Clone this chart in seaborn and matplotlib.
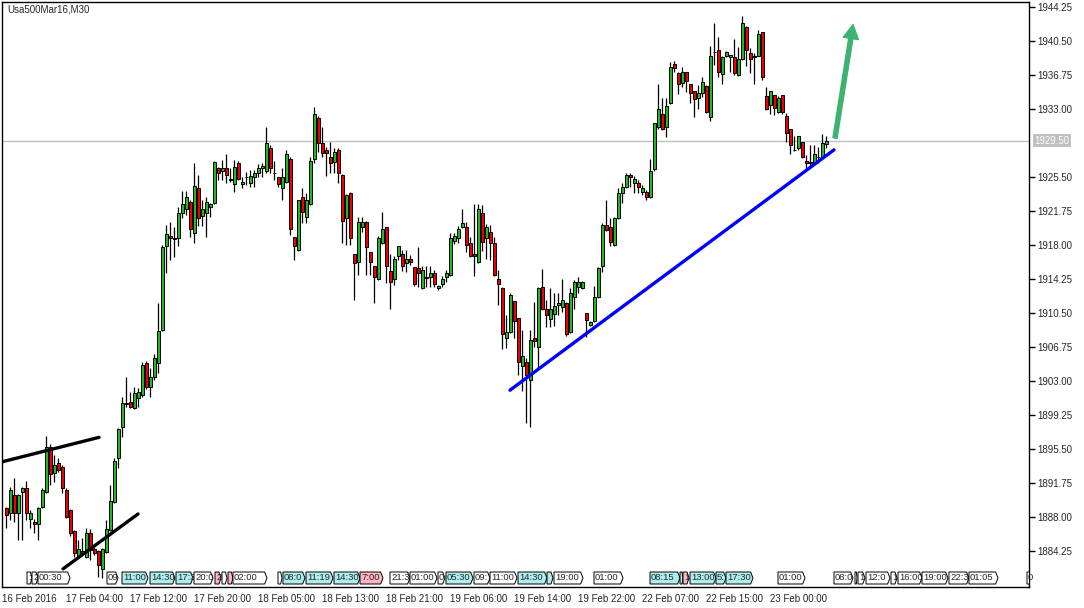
import numpy as np
import pandas as pd
import seaborn as sns
import matplotlib.pyplot as plt
from matplotlib.patches import Polygon
import matplotlib.transforms as mtransforms

# Usa500Mar16, M30 candles
opens = [
    1889.0, 1888.5, 1890.4, 1888.5, 1890.8, 1891.2, 1887.8, 1887.5, 1887.2, 1889.1,
    1890.8, 1895.7, 1892.9, 1894.0, 1893.5, 1891.0, 1888.8, 1886.5, 1883.7, 1884.0,
    1883.6, 1886.3, 1884.5, 1884.3, 1882.3, 1884.2, 1886.6, 1889.7, 1894.5, 1897.9,
    1900.6, 1900.7, 1900.0, 1901.1, 1901.5, 1905.0, 1902.4, 1903.4, 1905.0, 1908.6,
    1917.9, 1919.0, 1918.8, 1918.8, 1921.5, 1922.0, 1922.7, 1919.3, 1924.3, 1921.2,
    1921.5, 1922.2, 1922.6, 1926.5, 1926.2, 1926.5, 1925.3, 1924.7, 1927.1, 1924.7,
    1925.5, 1924.8, 1925.5, 1925.9, 1926.5, 1926.2, 1928.7, 1925.9, 1925.5, 1924.3,
    1924.9, 1927.5, 1918.9, 1917.5, 1923.3, 1921.1, 1922.5, 1927.5, 1932.0, 1929.3,
    1928.5, 1927.7, 1927.2, 1928.5, 1925.7, 1921.0, 1923.7, 1917.0, 1916.1, 1920.0,
    1920.5, 1917.2, 1915.7, 1914.3, 1918.2, 1920.0, 1915.1, 1914.3, 1916.8, 1917.0,
    1916.0, 1916.5, 1915.6, 1915.5, 1913.3, 1914.5, 1914.5, 1914.9, 1913.3, 1913.7,
    1914.5, 1914.7, 1918.4, 1918.8, 1920.0, 1920.0, 1918.2, 1917.0, 1916.1, 1921.5,
    1918.8, 1919.4, 1918.2, 1914.3, 1913.3, 1907.7, 1908.4, 1911.8, 1910.0, 1904.7,
    1905.1, 1903.1, 1907.8, 1906.8, 1913.4, 1910.9, 1909.9, 1910.4, 1911.4, 1911.2,
    1911.6, 1908.4, 1912.3, 1913.4, 1913.3, 1910.5, 1909.2, 1909.6, 1912.3, 1915.7,
    1920.2, 1920.0, 1918.0, 1921.0, 1923.7, 1924.4, 1925.7, 1924.8, 1924.8, 1923.9,
    1923.9, 1923.3, 1926.4, 1931.0, 1932.4, 1931.0, 1933.7, 1938.0, 1937.0, 1935.9,
    1937.1, 1935.8, 1935.0, 1934.2, 1934.8, 1935.5, 1932.1, 1939.3, 1939.5, 1936.9,
    1938.8, 1938.7, 1938.7, 1936.8, 1938.5, 1942.0, 1939.2, 1938.8, 1938.9, 1941.5,
    1934.4, 1933.4, 1934.5, 1932.7, 1934.5, 1932.2, 1930.8, 1928.5, 1928.7, 1929.4,
    1927.3, 1927.2, 1927.1, 1927.7, 1927.7, 1929.1,
]
highs = [
    1889.1, 1891.3, 1892.3, 1890.5, 1891.3, 1892.0, 1888.8, 1887.8, 1889.1, 1891.2,
    1897.0, 1896.1, 1894.9, 1894.5, 1893.8, 1891.2, 1888.9, 1886.6, 1885.5, 1885.7,
    1886.8, 1886.7, 1884.7, 1884.4, 1884.6, 1887.7, 1891.5, 1894.5, 1897.8, 1901.3,
    1903.4, 1901.8, 1902.4, 1902.2, 1905.1, 1905.2, 1904.4, 1906.0, 1911.6, 1918.0,
    1920.2, 1920.5, 1920.0, 1922.2, 1924.0, 1924.0, 1923.0, 1927.0, 1925.7, 1923.0,
    1923.3, 1922.6, 1927.3, 1926.6, 1927.4, 1928.0, 1926.5, 1927.4, 1927.3, 1925.5,
    1926.1, 1926.3, 1926.3, 1926.9, 1927.0, 1931.0, 1929.0, 1927.3, 1925.5, 1926.5,
    1928.5, 1927.7, 1918.9, 1923.0, 1924.3, 1923.7, 1927.7, 1933.2, 1932.2, 1931.0,
    1928.8, 1929.4, 1928.7, 1928.7, 1925.8, 1923.6, 1923.8, 1917.0, 1921.1, 1921.1,
    1920.6, 1917.2, 1915.7, 1919.0, 1921.6, 1920.0, 1917.0, 1916.8, 1917.9, 1917.5,
    1917.5, 1916.9, 1915.6, 1917.8, 1915.7, 1915.7, 1915.7, 1915.3, 1913.6, 1914.6,
    1915.3, 1919.3, 1919.3, 1920.1, 1922.0, 1920.5, 1918.9, 1922.5, 1922.5, 1922.4,
    1920.3, 1920.2, 1918.9, 1915.3, 1913.4, 1910.3, 1912.7, 1911.8, 1910.0, 1908.6,
    1905.6, 1908.6, 1911.7, 1913.4, 1915.4, 1911.9, 1913.3, 1912.7, 1912.7, 1914.3,
    1911.7, 1913.3, 1914.1, 1914.5, 1914.0, 1910.5, 1909.6, 1913.5, 1915.6, 1920.4,
    1923.0, 1921.0, 1921.1, 1924.3, 1924.8, 1925.9, 1925.9, 1925.6, 1925.2, 1924.6,
    1924.1, 1927.5, 1931.5, 1935.8, 1934.2, 1934.2, 1938.2, 1938.3, 1937.1, 1937.6,
    1937.1, 1935.8, 1935.0, 1935.6, 1936.5, 1935.6, 1939.9, 1942.5, 1940.9, 1938.8,
    1939.4, 1939.0, 1940.7, 1939.8, 1943.3, 1942.1, 1939.7, 1939.2, 1941.7, 1941.5,
    1935.4, 1935.0, 1934.6, 1934.4, 1934.6, 1932.6, 1930.8, 1930.0, 1930.0, 1929.4,
    1927.9, 1929.0, 1929.0, 1928.8, 1930.3, 1930.0,
]
lows = [
    1886.8, 1887.7, 1887.5, 1885.5, 1885.5, 1887.7, 1886.8, 1886.3, 1885.5, 1889.0,
    1890.7, 1891.5, 1891.9, 1893.0, 1890.7, 1887.9, 1885.9, 1883.6, 1883.5, 1883.8,
    1883.5, 1883.3, 1883.8, 1881.4, 1881.3, 1884.1, 1886.5, 1889.6, 1893.4, 1896.8,
    1900.1, 1900.0, 1899.9, 1900.1, 1901.3, 1902.1, 1901.3, 1903.1, 1903.9, 1908.5,
    1914.9, 1916.4, 1916.7, 1917.9, 1921.0, 1921.3, 1918.9, 1918.2, 1920.1, 1920.1,
    1918.9, 1921.1, 1922.5, 1925.2, 1925.2, 1924.8, 1924.9, 1923.9, 1925.2, 1924.3,
    1924.6, 1924.4, 1924.4, 1925.5, 1925.5, 1925.9, 1925.9, 1925.2, 1924.4, 1923.0,
    1924.8, 1919.1, 1916.4, 1917.4, 1920.4, 1920.4, 1922.4, 1927.0, 1928.3, 1927.7,
    1925.6, 1925.9, 1925.9, 1924.8, 1918.2, 1918.0, 1918.0, 1911.9, 1914.7, 1919.4,
    1914.7, 1914.7, 1911.6, 1914.2, 1918.1, 1913.8, 1910.9, 1913.6, 1916.4, 1915.1,
    1915.0, 1915.8, 1913.5, 1913.4, 1913.2, 1913.4, 1913.4, 1913.4, 1913.1, 1913.4,
    1913.9, 1914.6, 1918.1, 1918.2, 1919.9, 1917.2, 1916.7, 1914.6, 1916.0, 1917.4,
    1916.5, 1916.4, 1914.6, 1911.4, 1906.5, 1906.6, 1908.3, 1907.8, 1903.7, 1901.9,
    1898.4, 1897.9, 1906.8, 1904.5, 1910.8, 1909.0, 1909.0, 1909.1, 1910.3, 1910.6,
    1908.0, 1908.3, 1910.9, 1912.7, 1913.2, 1907.9, 1909.1, 1909.5, 1912.2, 1915.0,
    1919.6, 1917.9, 1917.9, 1920.9, 1922.6, 1924.3, 1924.4, 1923.7, 1923.7, 1923.5,
    1923.0, 1923.2, 1926.2, 1930.8, 1930.7, 1929.9, 1933.6, 1937.1, 1934.7, 1935.4,
    1934.9, 1933.7, 1932.1, 1933.0, 1934.3, 1932.6, 1931.7, 1937.9, 1936.5, 1935.8,
    1938.7, 1937.1, 1936.8, 1936.6, 1938.4, 1937.7, 1937.0, 1935.8, 1938.8, 1936.2,
    1932.9, 1932.5, 1932.3, 1932.6, 1932.4, 1929.4, 1928.0, 1928.4, 1928.5, 1927.6,
    1926.3, 1926.6, 1927.0, 1927.1, 1927.6, 1928.7,
]
closes = [
    1888.2, 1891.0, 1888.5, 1890.4, 1891.2, 1888.5, 1888.5, 1887.2, 1889.0, 1891.0,
    1895.7, 1892.8, 1893.8, 1893.2, 1891.2, 1888.0, 1886.3, 1884.0, 1884.5, 1884.3,
    1886.3, 1884.4, 1884.0, 1882.7, 1884.5, 1886.7, 1889.8, 1894.2, 1897.7, 1900.6,
    1900.5, 1900.1, 1901.7, 1901.8, 1904.8, 1902.4, 1903.4, 1905.6, 1908.5, 1917.8,
    1919.2, 1918.8, 1918.7, 1921.5, 1922.5, 1923.3, 1919.8, 1924.5, 1921.0, 1922.0,
    1922.7, 1922.5, 1927.2, 1925.9, 1926.5, 1925.7, 1925.2, 1926.6, 1925.3, 1924.9,
    1925.5, 1925.6, 1925.9, 1926.5, 1926.7, 1929.3, 1926.5, 1925.9, 1924.7, 1925.5,
    1928.0, 1919.8, 1917.9, 1923.0, 1921.6, 1923.0, 1927.3, 1932.5, 1929.3, 1928.2,
    1928.2, 1927.0, 1928.3, 1925.9, 1920.6, 1923.5, 1918.8, 1916.0, 1920.5, 1920.5,
    1917.8, 1916.1, 1914.5, 1918.8, 1919.8, 1915.7, 1913.9, 1916.5, 1917.9, 1915.7,
    1916.5, 1916.1, 1913.7, 1914.9, 1915.3, 1914.4, 1914.9, 1913.7, 1913.5, 1914.3,
    1914.9, 1918.8, 1919.0, 1919.8, 1920.4, 1918.0, 1916.8, 1916.8, 1922.0, 1918.3,
    1920.0, 1918.2, 1914.7, 1913.7, 1908.2, 1908.4, 1912.5, 1909.6, 1905.1, 1905.8,
    1903.7, 1907.5, 1907.4, 1913.3, 1910.9, 1910.3, 1910.9, 1911.3, 1911.6, 1911.9,
    1908.2, 1912.7, 1913.9, 1913.9, 1913.9, 1909.7, 1909.5, 1912.3, 1915.5, 1920.2,
    1919.7, 1918.3, 1921.0, 1923.7, 1924.4, 1925.7, 1925.5, 1925.3, 1924.4, 1924.3,
    1923.3, 1926.2, 1931.5, 1933.0, 1930.8, 1933.3, 1937.6, 1937.5, 1935.8, 1937.1,
    1936.1, 1934.8, 1934.1, 1934.8, 1936.0, 1932.7, 1938.9, 1939.3, 1937.1, 1938.7,
    1939.3, 1939.0, 1937.0, 1938.5, 1942.5, 1939.5, 1938.5, 1938.7, 1941.3, 1936.5,
    1933.0, 1935.0, 1933.1, 1934.2, 1932.7, 1930.4, 1929.0, 1928.5, 1930.0, 1927.7,
    1927.0, 1927.1, 1928.0, 1927.7, 1929.3, 1929.5,
]

current_price = 1929.50
price_ticks = [1944.25, 1940.50, 1936.75, 1933.00, 1925.50, 1921.75, 1918.00,
               1914.25, 1910.50, 1906.75, 1903.00, 1899.25, 1895.50, 1891.75,
               1888.00, 1884.25]
date_bars = [-1, 15, 31, 47, 63, 79, 95, 111, 127, 143, 159, 175, 191]
date_labels = ["16 Feb 2016", "17 Feb 04:00", "17 Feb 12:00", "17 Feb 20:00",
               "18 Feb 05:00", "18 Feb 13:00", "18 Feb 21:00", "19 Feb 06:00",
               "19 Feb 14:00", "19 Feb 22:00", "22 Feb 07:00", "22 Feb 15:00",
               "23 Feb 00:00"]

# hand-drawn lines (bar index, price)
channel_top = ([-1, 23.25], [1894.1, 1896.8])
channel_bottom = ([14.25, 33], [1882.3, 1888.35])
support_line = ([126, 207], [1902.0, 1928.5])
arrow_from = (207.25, 1929.8)
arrow_to = (211.75, 1942.3)

# calendar events along the bottom: start bar, end bar, text, kind
events = [
    (5.25, 6.5, ":", "w"), (6.5, 8, "2", "w"), (8, 16, "00:30", "w"),
    (25.25, 28, "09", "w"), (29, 35.5, "11:00", "c"), (36, 42.25, "14:30", "c"),
    (42.5, 46.75, "17:3", "c"), (47, 51.75, "20:0", "w"), (52.25, 53.75, "2", "p"),
    (54, 55.25, "", "w"), (55.5, 56.75, "", "p"), (56.75, 65.25, "02:00", "w"),
    (68, 69, "", "w"), (69.25, 74.75, "08:0", "c"), (75, 81.75, "11:19", "c"),
    (82, 88.5, "14:30", "c"), (88.5, 94.25, "7:00", "p"),
    (96, 101, "21:3", "w"), (101, 107.75, "01:00", "w"), (108, 109.75, "0", "w"),
    (110, 116.75, "05:30", "c"), (117, 121, "09:", "w"), (121, 127.75, "11:00", "w"),
    (128, 135.25, "14:30", "c"), (135.25, 136.75, "", "c"), (137, 144.25, "19:00", "w"),
    (147, 154.25, "01:00", "w"), (161, 168.5, "08:15", "c"), (168.5, 169.25, "", "c"),
    (169.25, 170.75, "1", "p"), (171, 177.5, "13:00", "c"), (177.5, 180, "5:", "c"),
    (180, 186.75, "17:30", "c"), (193, 199.75, "01:00", "w"),
    (207, 211.75, "08:0", "w"), (212.25, 212.75, "", "w"), (213, 214.75, "1", "w"),
    (215, 221, "12:0", "w"), (221.25, 222.75, "1", "w"), (223, 229, "16:00", "w"),
    (229, 235.5, "19:00", "w"), (235.75, 240.75, "22:3", "w"),
    (240.75, 248, "01:05", "w"), (255.25, 256.5, "0", "w"),
]
event_colors = {"w": "white", "c": "#aeeeee", "p": "#ffb6c1"}

sns.set_style("white")
plt.rcParams["font.family"] = ["Liberation Sans", "DejaVu Sans"]

df = pd.DataFrame({"open": opens, "high": highs, "low": lows, "close": closes})
df["bar"] = np.arange(len(df))
df["up"] = df["close"] >= df["open"]

W, H = 1084, 608
fig = plt.figure(figsize=(W / 100, H / 100), dpi=100, facecolor="white")
ax = fig.add_axes([2 / W, (H - 587) / H, 1027 / W, 585 / H])
ax.set_xlim(-1, 255.75)
ax.set_ylim(1880.30, 1944.80)

ax.axhline(current_price, color="#c0c0c0", lw=1, zorder=0)

# candles
ax.vlines(df["bar"], df["low"], df["high"], color="black", lw=0.9, zorder=2)
body_bottom = df[["open", "close"]].min(axis=1)
body_height = (df["close"] - df["open"]).abs().clip(lower=0.02)
ax.bar(df["bar"], body_height, bottom=body_bottom, width=0.75,
       color=np.where(df["up"], "#22b822", "#ee0000"),
       edgecolor="black", linewidth=0.7, zorder=3)

# trend lines
for xs, ys in (channel_top, channel_bottom):
    sns.lineplot(x=xs, y=ys, color="black", lw=2.4, ax=ax, legend=False, zorder=4)
sns.lineplot(x=support_line[0], y=support_line[1], color="#0000ff", lw=2.4,
             ax=ax, legend=False, zorder=4)
ax.annotate("", xy=arrow_to, xytext=arrow_from,
            arrowprops=dict(color="#3cb371", width=3, headwidth=11,
                            headlength=10, shrink=0), zorder=5)

# calendar event tags
trans = ax.get_xaxis_transform()
y0, y1 = 3 / 585, 15 / 585
for k, (x0, x1, txt, kind) in enumerate(events):
    tip = min(0.6, (x1 - x0) / 3)
    pts = [(x0, y0), (x1 - tip, y0), (x1, (y0 + y1) / 2), (x1 - tip, y1), (x0, y1)]
    z = 6 + k * 0.01
    ax.add_patch(Polygon(pts, closed=True, transform=trans, facecolor=event_colors[kind],
                         edgecolor="black", lw=0.7, zorder=z))
    if txt:
        ax.text(x0 + 0.25, (y0 + y1) / 2, txt, transform=trans, fontsize=6.8,
                ha="left", va="center", zorder=z + 0.005)

# axes styling
for s in ax.spines.values():
    s.set_color("black")
    s.set_linewidth(1)
ax.yaxis.tick_right()
ax.set_yticks(price_ticks)
ax.set_yticklabels([f"{v:.2f}" for v in price_ticks])
ax.tick_params(axis="y", length=4, width=1, pad=2, labelsize=7, color="black",
               direction="out")
ax.set_xticks(date_bars)
ax.set_xticklabels(date_labels)
ax.tick_params(axis="x", length=4, width=1, pad=1, labelsize=7, color="black",
               direction="out")
for lbl in ax.get_xticklabels():
    lbl.set_horizontalalignment("left")
ax.set_xlabel("")
ax.set_ylabel("")

label_x = mtransforms.blended_transform_factory(ax.transAxes, ax.transData)
ax.text(1 + 5 / 1027, current_price, f"{current_price:.2f}", transform=label_x,
        fontsize=7, color="white", va="center", ha="left", clip_on=False,
        bbox=dict(boxstyle="square,pad=0.15", fc="#c0c0c0", ec="none"))

ax.text(5 / 1027, 1 - 2 / 585, "Usa500Mar16,M30", transform=ax.transAxes,
        fontsize=7, ha="left", va="top")

fig.savefig("out.png", dpi=100)
